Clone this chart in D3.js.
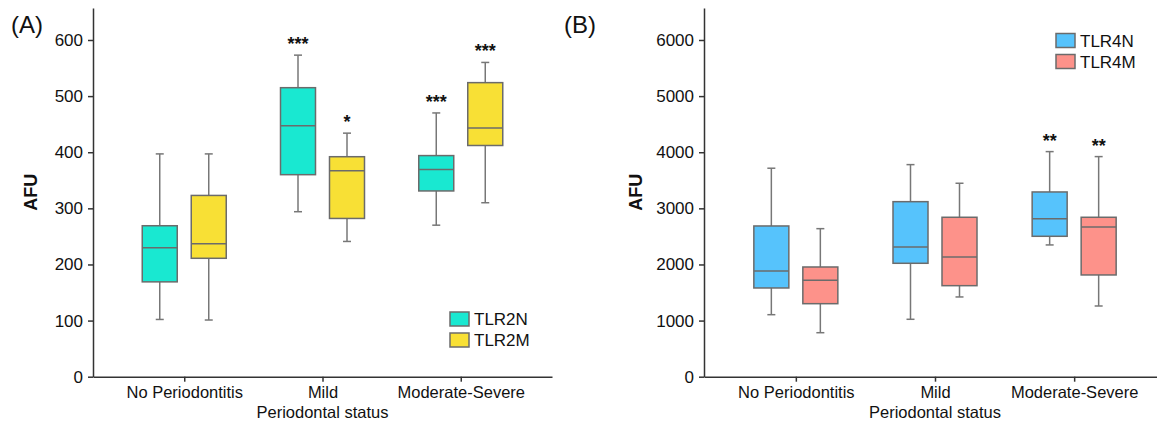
<!DOCTYPE html>
<html>
<head>
<meta charset="utf-8">
<script src="https://cdn.jsdelivr.net/npm/d3@7"></script>
<style>
  body { margin: 0; background: #fff; }
  text { font-family: "Liberation Sans", Arial, Helvetica, sans-serif; fill: #111; }
  .axis path, .axis line { stroke: #333; stroke-width: 1.5; }
</style>
</head>
<body>
<svg id="chart" width="1157" height="425"></svg>
<script>
// categories on the x axis
var categories = ["No Periodontitis", "Mild", "Moderate-Severe"];

// panel A: TLR2 (min, q1, median, q3, max)
var tlr2n = [
  {min: 102, q1: 169, median: 230, q3: 269, max: 397},
  {min: 294, q1: 360, median: 447, q3: 515, max: 573},
  {min: 270, q1: 331, median: 369, q3: 394, max: 470}
];
var tlr2m = [
  {min: 101, q1: 211, median: 237, q3: 323, max: 397},
  {min: 241, q1: 282, median: 367, q3: 392, max: 434},
  {min: 310, q1: 412, median: 443, q3: 524, max: 560}
];
var tlr2nStars = ["", "***", "***"];
var tlr2mStars = ["", "*", "***"];
var tlr2Ticks = [0, 100, 200, 300, 400, 500, 600];

// panel B: TLR4
var tlr4n = [
  {min: 1105, q1: 1581, median: 1884, q3: 2686, max: 3715},
  {min: 1023, q1: 2021, median: 2312, q3: 3119, max: 3779},
  {min: 2348, q1: 2502, median: 2816, q3: 3292, max: 4011}
];
var tlr4m = [
  {min: 784, q1: 1301, median: 1718, q3: 1955, max: 2638},
  {min: 1421, q1: 1622, median: 2134, q3: 2841, max: 3447},
  {min: 1260, q1: 1813, median: 2668, q3: 2841, max: 3922}
];
var tlr4nStars = ["", "", "**"];
var tlr4mStars = ["", "", "**"];
var tlr4Ticks = [0, 1000, 2000, 3000, 4000, 5000, 6000];

var svg = d3.select("#chart");

var plotTop = 8, plotBottom = 376.7;
var boxW = 35, offset = 24.5, capW = 8;
var boxStroke = "#6b6b6b";

function drawPanel(opts) {
  var g = svg.append("g");

  var y = d3.scaleLinear().domain([0, opts.yMax]).range([plotBottom, plotTop]);
  var x = d3.scalePoint().domain(categories).range([opts.left, opts.right]).padding(0.66);

  // y axis
  g.append("g")
    .attr("class", "axis")
    .attr("transform", "translate(" + opts.left + ",0)")
    .call(d3.axisLeft(y).tickValues(opts.ticks).tickFormat(d3.format("d")).tickSize(5).tickSizeOuter(0).tickPadding(5))
    .selectAll("text").style("font-size", "17px");

  // x axis
  g.append("g")
    .attr("class", "axis")
    .attr("transform", "translate(0," + plotBottom + ")")
    .call(d3.axisBottom(x).tickSize(5).tickSizeOuter(0).tickPadding(5))
    .selectAll("text").style("font-size", "16.5px");

  // axis titles
  g.append("text")
    .attr("transform", "translate(" + (opts.left - opts.afuGap) + "," + ((plotTop + plotBottom) / 2) + ") rotate(-90)")
    .attr("text-anchor", "middle")
    .style("font-size", "18px")
    .style("font-weight", "bold")
    .text("AFU");

  g.append("text")
    .attr("x", x("Mild"))
    .attr("y", 418)
    .attr("text-anchor", "middle")
    .style("font-size", "16.5px")
    .text("Periodontal status");

  g.append("text")
    .attr("x", opts.labelX)
    .attr("y", 33)
    .style("font-size", "24px")
    .text(opts.label);

  // boxes
  opts.series.forEach(function(s, si) {
    var dx = si === 0 ? -offset : offset;
    var boxes = g.selectAll(".box" + si)
      .data(s.values)
      .enter()
      .append("g")
      .attr("class", "box" + si)
      .attr("transform", function(d, i) {
        return "translate(" + (x(categories[i]) + dx) + ",0)";
      });

    boxes.append("line")
      .attr("x1", 0).attr("x2", 0)
      .attr("y1", function(d) { return y(d.min); })
      .attr("y2", function(d) { return y(d.max); })
      .attr("stroke", "#777").attr("stroke-width", 1.5);

    boxes.append("line")
      .attr("x1", -capW / 2).attr("x2", capW / 2)
      .attr("y1", function(d) { return y(d.max); })
      .attr("y2", function(d) { return y(d.max); })
      .attr("stroke", "#777").attr("stroke-width", 1.5);

    boxes.append("line")
      .attr("x1", -capW / 2).attr("x2", capW / 2)
      .attr("y1", function(d) { return y(d.min); })
      .attr("y2", function(d) { return y(d.min); })
      .attr("stroke", "#777").attr("stroke-width", 1.5);

    boxes.append("rect")
      .attr("x", -boxW / 2)
      .attr("width", boxW)
      .attr("y", function(d) { return y(d.q3); })
      .attr("height", function(d) { return y(d.q1) - y(d.q3); })
      .attr("fill", s.color)
      .attr("stroke", boxStroke).attr("stroke-width", 1.5);

    boxes.append("line")
      .attr("x1", -boxW / 2).attr("x2", boxW / 2)
      .attr("y1", function(d) { return y(d.median); })
      .attr("y2", function(d) { return y(d.median); })
      .attr("stroke", boxStroke).attr("stroke-width", 1.5);

    boxes.append("text")
      .attr("y", function(d) { return y(d.max) - 5; })
      .attr("text-anchor", "middle")
      .style("font-size", "18px")
      .style("font-weight", "bold")
      .text(function(d, i) { return s.stars[i]; });
  });

  // legend
  var legend = g.selectAll(".legend")
    .data(opts.series)
    .enter()
    .append("g")
    .attr("class", "legend")
    .attr("transform", function(d, i) {
      return "translate(" + opts.legendX + "," + (opts.legendY + i * 21) + ")";
    });
  legend.append("rect")
    .attr("width", 19).attr("height", 14)
    .attr("fill", function(d) { return d.color; })
    .attr("stroke", boxStroke).attr("stroke-width", 1.5);
  legend.append("text")
    .attr("x", 24).attr("y", 13)
    .style("font-size", "17px")
    .text(function(d) { return d.name; });
}

drawPanel({
  label: "(A)", labelX: 11, left: 93, right: 552, yMax: 657, ticks: tlr2Ticks,
  afuGap: 56, legendX: 450, legendY: 312,
  series: [
    {name: "TLR2N", color: "#19e8d1", values: tlr2n, stars: tlr2nStars},
    {name: "TLR2M", color: "#f8e035", values: tlr2m, stars: tlr2mStars}
  ]
});

drawPanel({
  label: "(B)", labelX: 564, left: 704, right: 1166, yMax: 6570, ticks: tlr4Ticks,
  afuGap: 62, legendX: 1056, legendY: 33.5,
  series: [
    {name: "TLR4N", color: "#56c3fc", values: tlr4n, stars: tlr4nStars},
    {name: "TLR4M", color: "#fd928a", values: tlr4m, stars: tlr4mStars}
  ]
});
</script>
</body>
</html>
